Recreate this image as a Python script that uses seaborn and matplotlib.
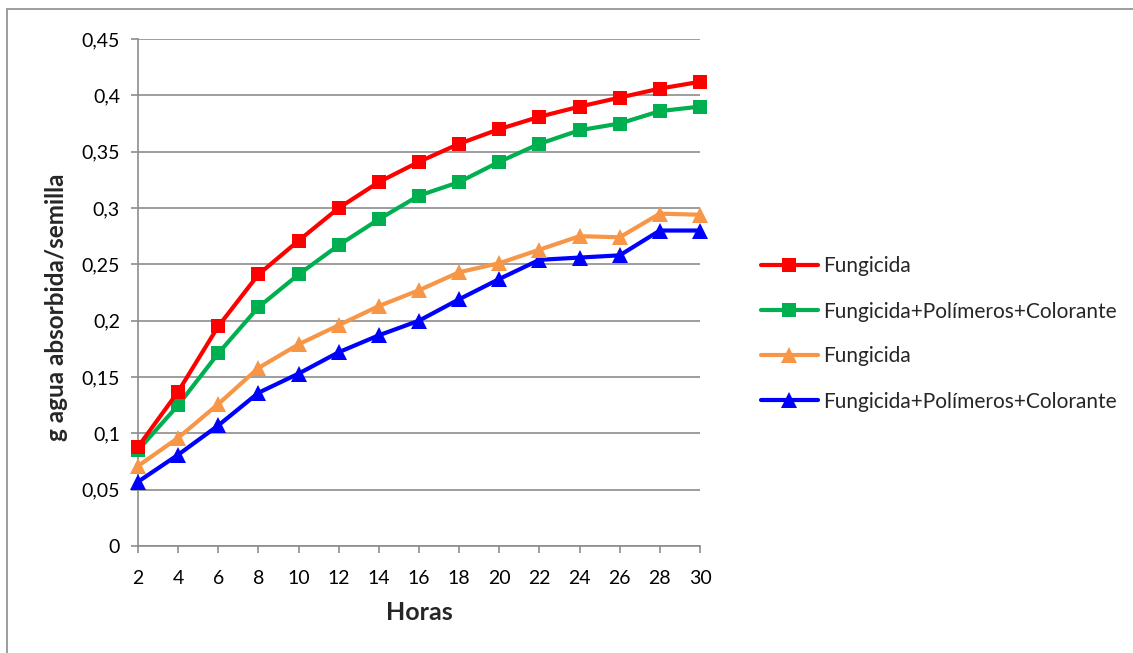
import matplotlib
matplotlib.use("Agg")
import matplotlib.pyplot as plt
import seaborn as sns
import pandas as pd
from matplotlib.patches import Rectangle
from matplotlib.ticker import FuncFormatter, MultipleLocator

horas = [2, 4, 6, 8, 10, 12, 14, 16, 18, 20, 22, 24, 26, 28, 30]
fungicida_1 = [0.088, 0.137, 0.195, 0.241, 0.271, 0.300, 0.323, 0.341, 0.357, 0.370, 0.381, 0.390, 0.398, 0.406, 0.412]
fpc_1 = [0.085, 0.125, 0.171, 0.212, 0.241, 0.267, 0.290, 0.311, 0.323, 0.341, 0.357, 0.369, 0.375, 0.386, 0.390]
fungicida_2 = [0.071, 0.096, 0.126, 0.158, 0.179, 0.196, 0.213, 0.227, 0.243, 0.251, 0.263, 0.275, 0.274, 0.295, 0.294]
fpc_2 = [0.057, 0.081, 0.107, 0.136, 0.153, 0.172, 0.187, 0.200, 0.219, 0.237, 0.254, 0.256, 0.258, 0.280, 0.280]

labels = ["Fungicida", "Fungicida+Polímeros+Colorante", "Fungicida", "Fungicida+Polímeros+Colorante"]
colors = ["#FF0000", "#00B050", "#F79646", "#0000FF"]
markers = ["s", "s", "^", "^"]
series = [fungicida_1, fpc_1, fungicida_2, fpc_2]

sns.set_theme(style="white")
plt.rcParams['font.family'] = ['Lato', 'DejaVu Sans']

fig = plt.figure(figsize=(11.33, 6.53), dpi=100)
ax = fig.add_axes([138/1133, 1 - 546/653, (700-138)/1133, (546-39)/653])

for i, (vals, lab, col, mk) in enumerate(zip(series, labels, colors, markers)):
    df = pd.DataFrame({"Horas": horas, "val": vals})
    sns.lineplot(data=df, x="Horas", y="val", ax=ax, color=col, marker=mk,
                 markersize=10 if mk == "s" else 11, markeredgewidth=0,
                 linewidth=3, label=lab, clip_on=False, zorder=3 + (3 - i))

ax.set_xlim(2, 30)
ax.set_ylim(0, 0.45)
ax.set_xticks(horas)
ax.yaxis.set_major_locator(MultipleLocator(0.05))
ax.yaxis.set_major_formatter(FuncFormatter(lambda v, p: ("%g" % round(v, 2)).replace(".", ",")))
ax.grid(axis="y", color="#8c8c8c", linewidth=1.2)
ax.grid(axis="x", visible=False)
for s in ["top", "right"]:
    ax.spines[s].set_visible(False)
for s in ["left", "bottom"]:
    ax.spines[s].set_color("#8c8c8c")
    ax.spines[s].set_linewidth(1.2)
ax.tick_params(axis="both", which="major", direction="out", length=5, width=1.2,
               color="#8c8c8c", labelsize=14, labelcolor="black",
               left=True, bottom=True)
ax.tick_params(axis="x", pad=12)
ax.tick_params(axis="y", pad=8)
ax.set_xlabel("Horas", fontsize=18, fontweight="bold", labelpad=10)
ax.set_ylabel("g agua absorbida/semilla", fontsize=17.5, fontweight="bold")
ax.yaxis.set_label_coords(-(138 - 56 - 12) / 562, 0.47)

leg = ax.legend(loc="center left", bbox_to_anchor=(742/1133, 1 - 334/653),
                bbox_transform=fig.transFigure, frameon=False, fontsize=15,
                handlelength=2.75, handletextpad=0.25, labelspacing=1.2)

fig.patches.append(Rectangle((7/1133, -0.1), 1.2, 1 - 9/653 + 0.1,
                             transform=fig.transFigure, fill=False,
                             edgecolor="#8c8c8c", linewidth=1.2))

fig.savefig("out.png", dpi=100)
